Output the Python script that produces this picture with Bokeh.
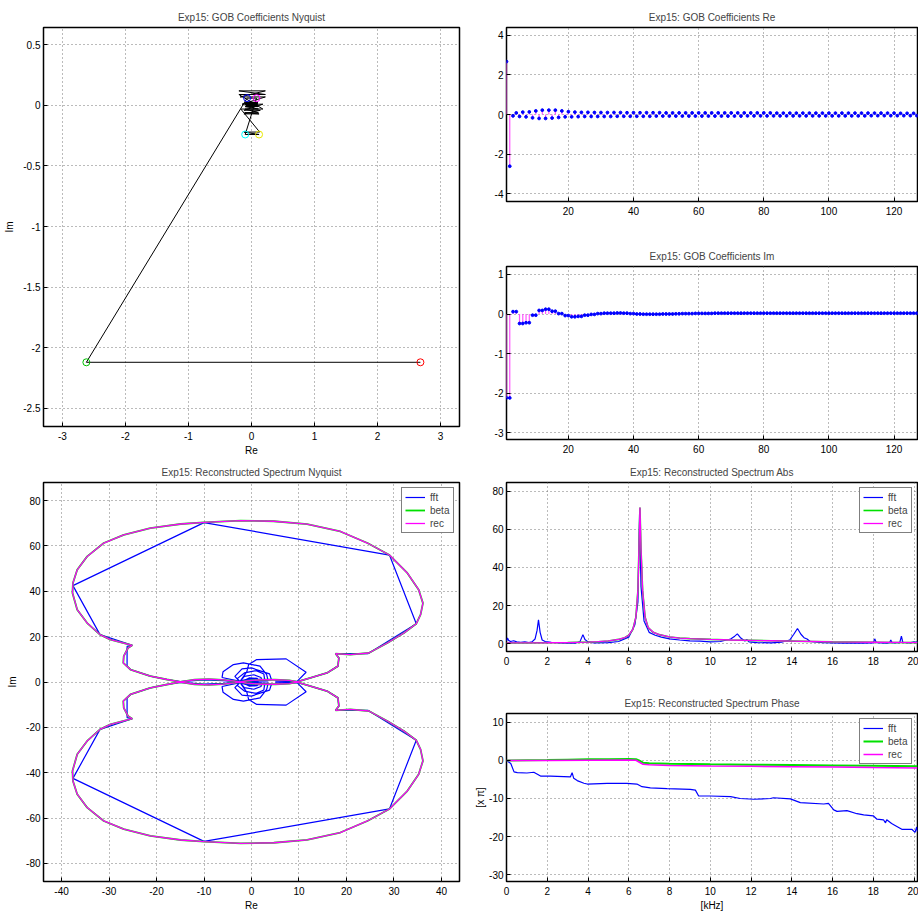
from bokeh.plotting import figure
from bokeh.layouts import row, column
from bokeh.models import FixedTicker, PrintfTickFormatter, Range1d
from bokeh.embed import file_html
from bokeh.resources import INLINE

FONT = "Liberation Sans"
FS = "10px"

# ---------------- GOB coefficients (index 1..128) ----------------
coef_idx = list(range(1, 129))
re_coef = [
    2.68, -2.62, -0.07, 0.08, -0.10, 0.12, -0.12, 0.13, -0.17, 0.18,
    -0.20, 0.22, -0.20, 0.22, -0.18, 0.22, -0.15, 0.18, -0.12, 0.14,
    -0.12, 0.12, -0.11, 0.11, -0.10, 0.11, -0.10, 0.10, -0.10, 0.10,
    -0.10, 0.10, -0.10, 0.10, -0.09, 0.10, -0.09, 0.09, -0.09, 0.09,
    -0.09, 0.09, -0.09, 0.09, -0.09, 0.09, -0.08, 0.09, -0.08, 0.08,
    -0.08, 0.08, -0.08, 0.08, -0.08, 0.08, -0.08, 0.08, -0.08, 0.08,
    -0.08, 0.08, -0.08, 0.08, -0.08, 0.08, -0.08, 0.08, -0.08, 0.08,
    -0.08, 0.08, -0.08, 0.08, -0.07, 0.08, -0.07, 0.08, -0.07, 0.08,
    -0.07, 0.08, -0.07, 0.07, -0.07, 0.07, -0.07, 0.07, -0.07, 0.07,
    -0.07, 0.07, -0.07, 0.07, -0.07, 0.07, -0.07, 0.07, -0.07, 0.07,
    -0.07, 0.07, -0.07, 0.07, -0.07, 0.07, -0.07, 0.07, -0.07, 0.07,
    -0.07, 0.07, -0.06, 0.07, -0.06, 0.07, -0.06, 0.07, -0.06, 0.07,
    -0.06, 0.06, -0.06, 0.06, -0.06, 0.06, -0.06, 0.06,
]
im_coef = [
    -2.12, -2.12, 0.06, 0.06, -0.24, -0.24, -0.22, -0.22, -0.03, -0.03,
    0.09, 0.09, 0.12, 0.12, 0.07, 0.07, 0.01, 0.01, -0.04, -0.04,
    -0.07, -0.07, -0.06, -0.06, -0.03, -0.03, -0.01, -0.01, 0.01, 0.01,
    0.02, 0.02, 0.02, 0.02, 0.025, 0.025, 0.02, 0.02, 0.01, 0.01,
    0.0, 0.0, -0.005, -0.005, -0.005, -0.005, -0.005, -0.005, 0.0, 0.0,
    0.0, 0.0, 0.005, 0.005, 0.01, 0.01, 0.01, 0.01, 0.015, 0.015,
    0.015, 0.015, 0.015, 0.015, 0.02, 0.02, 0.02, 0.02, 0.02, 0.02,
    0.02, 0.02, 0.02, 0.02, 0.02, 0.02, 0.02, 0.02, 0.02, 0.02,
    0.02, 0.02, 0.02, 0.02, 0.02, 0.02, 0.02, 0.02, 0.02, 0.02,
    0.02, 0.02, 0.02, 0.02, 0.02, 0.02, 0.02, 0.02, 0.02, 0.02,
    0.02, 0.02, 0.02, 0.02, 0.02, 0.02, 0.02, 0.02, 0.02, 0.02,
    0.02, 0.02, 0.02, 0.02, 0.02, 0.02, 0.02, 0.02, 0.02, 0.02,
    0.02, 0.02, 0.02, 0.02, 0.02, 0.02, 0.02, 0.02,
]
first_marker_colors = ["red", "#00c000", "blue", "magenta", "cyan", "#e8e800"]

# ---------------- Reconstructed spectrum, Nyquist (upper half; lower half is its conjugate) ----------------
rec_nyq_re = [9.6, 11.7, 15.9, 18.2, 18.4, 17.7, 20.8, 24.7, 28.6, 32.1, 34.7, 35.6, 36.1, 35.2,
              32.8, 29.05, 24.4, 18.7, 11.7, 4.7, -2.3, -10.0, -14.9, -21.3, -26.9, -31.1, -34.6,
              -36.7, -37.6, -37.7, -36.7, -34.6, -31.9, -29.7, -25.1, -26.0, -26.9, -27.0, -25.5,
              -21.3, -17.8, -15.0, -12.0, -9.0, -6.0, -3.5, -2.4, -1.0, 2.0, 5.0, 8.0, 9.6]
rec_nyq_im = [0.1, 1.4, 4.0, 7.0, 10.6, 12.5, 12.1, 12.8, 17.2, 21.6, 25.7, 29.7, 34.8, 40.7,
              48.1, 56.0, 61.3, 66.4, 69.6, 70.9, 71.2, 70.4, 69.7, 67.9, 64.9, 61.3, 55.4,
              49.5, 43.7, 39.3, 31.9, 26.0, 20.9, 18.7, 16.2, 15.0, 11.4, 8.4, 5.5,
              2.6, 1.1, 0.1, 1.0, 1.3, 0.9, 0.4, 0.1, 0.5, 1.0, 1.0, 0.7, 0.1]
beta_nyq_re = rec_nyq_re   # beta coincides with rec at this scale
beta_nyq_im = rec_nyq_im
fft_nyq_re = [-2.4, -6.0, -10.0, -15.0, -17.8, -21.3, -25.5, -26.2, -26.2, -25.1, -31.9, -37.6,
              -10.0, 29.05, 34.7, 24.5, 17.7, 18.4, 18.2, 15.9, 11.7, 9.6, 5.0, 9.6, 11.5, 7.3,
              1.1, -0.6, -1.0, -2.0, -2.4, -6.2, -6.0, -3.8, -1.7, 1.8, 3.2, 3.5, -2.4, -3.0,
              -1.5, 1.0, 2.6, 2.8, -2.4, -1.5, 0.5, 2.0, 2.2, -2.0, -0.5, 1.2, 1.5, -2.4,
              -3.5, -2.0, 0.0, 3.8, 4.2, -2.4, -1.0, 0.8, 2.9, -2.4]
fft_nyq_im = [0.0, 0.6, 0.9, 0.2, 1.1, 2.6, 5.5, 7.0, 15.7, 16.2, 20.9, 42.5,
              70.3, 56.0, 25.7, 12.5, 12.5, 10.6, 7.0, 4.0, 1.4, 0.2, 0.4, 0.3, 4.3, 10.2,
              9.9, 7.7, 4.5, 1.5, 0.3, 2.0, 4.5, 7.7, 8.4, 7.0, 3.3, 0.5, 0.2, 1.5,
              4.0, 5.0, 3.5, 0.6, 0.3, 2.5, 3.2, 2.0, 0.4, 0.2, 1.8, 1.6, 0.3, 0.0,
              2.5, 5.8, 6.2, 3.6, 1.0, 0.4, 1.2, 1.4, 0.8, 0.1]

# ---------------- Reconstructed spectrum, Abs ----------------
fft_abs_f = [0.0, 0.05, 0.1, 0.2, 0.35, 0.5, 0.7, 0.9, 1.1, 1.25, 1.4, 1.5, 1.57, 1.65, 1.75, 1.9,
             2.2, 2.6, 3.0, 3.4, 3.6, 3.7, 3.75, 3.85, 4.0, 4.3, 5.0, 5.5, 6.0, 6.3, 6.45, 6.53,
             6.6, 6.75, 7.0, 7.3, 7.6, 8.0, 8.5, 9.0, 9.5, 10.0, 10.5, 11.0, 11.2, 11.33, 11.5,
             11.7, 11.8, 11.9, 12.3, 13.0, 13.5, 13.9, 14.1, 14.28, 14.45, 14.6, 14.75, 14.9,
             15.5, 16.5, 17.5, 18.0, 18.07, 18.15, 18.6, 18.8, 18.86, 18.92, 19.3, 19.38, 19.45,
             19.8, 20.0, 20.1, 20.17]
fft_abs = [1.5, 3.0, 1.8, 1.2, 1.6, 1.0, 0.8, 1.0, 0.6, 1.0, 2.5, 7.0, 12.5, 6.0, 2.0, 1.2,
           0.8, 0.5, 0.4, 0.4, 1.0, 3.5, 4.8, 2.2, 1.0, 0.5, 0.6, 1.2, 3.5, 10.0, 22.0, 68.0,
           30.0, 12.0, 6.0, 4.5, 3.5, 2.6, 2.0, 1.5, 1.4, 1.0, 1.2, 2.5, 4.0, 5.2, 3.0,
           1.5, 2.2, 1.0, 0.6, 0.5, 0.9, 2.0, 5.0, 8.0, 5.0, 3.2, 2.5, 1.2,
           0.6, 0.4, 0.3, 0.5, 2.6, 0.6, 0.4, 0.5, 2.0, 0.5, 0.6, 4.0, 0.7,
           0.5, 1.0, 0.8, 1.2]
rec_abs_f = [0.0, 1.0, 2.0, 3.0, 4.0, 4.5, 5.0, 5.5, 5.8, 6.0, 6.2, 6.35, 6.45, 6.5, 6.55, 6.6,
             6.68, 6.8, 6.95, 7.2, 7.5, 8.0, 8.5, 9.0, 10.0, 11.0, 12.0, 13.0, 14.0, 15.0, 16.0,
             17.0, 18.0, 19.0, 20.17]
rec_abs = [0.5, 0.5, 0.55, 0.65, 0.85, 1.1, 1.5, 2.3, 3.2, 4.5, 7.5, 14.0, 28.0, 50.0, 71.5, 50.0,
           28.0, 14.0, 8.5, 6.0, 4.8, 3.6, 3.0, 2.7, 2.3, 2.0, 1.8, 1.6, 1.4, 1.2, 1.0,
           0.9, 0.8, 0.7, 0.6]
beta_abs_f = rec_abs_f   # beta coincides with rec
beta_abs = rec_abs

# ---------------- Reconstructed spectrum, Phase [x pi] ----------------
fft_ph_f = [0.0, 0.21, 0.37, 0.53, 1.0, 1.34, 1.67, 2.16, 3.14, 3.22, 3.3, 3.47, 3.8, 3.96, 4.94,
            5.9, 6.4, 6.65, 7.06, 7.88, 9.02, 9.27, 9.43, 10.0, 11.0, 11.47, 12.13, 12.95, 13.1,
            13.93, 14.42, 15.57, 15.8, 16.06, 16.22, 16.71, 17.2, 17.53, 18.0, 18.18, 18.5,
            18.6, 18.66, 18.9, 19.07, 19.4, 19.89, 20.05, 20.13, 20.17]
fft_ph = [0.0, -0.8, -3.0, -3.2, -3.3, -3.1, -4.1, -4.1, -4.3, -3.2, -4.7, -5.3, -6.0, -6.2, -6.0,
          -6.0, -6.2, -6.9, -7.2, -7.4, -7.6, -7.8, -9.35, -9.35, -9.5, -10.0, -10.2, -10.0, -9.8,
          -10.1, -11.1, -11.45, -11.3, -13.0, -13.4, -13.2, -14.0, -14.3, -14.55, -15.45, -15.6,
          -16.4, -15.6, -16.6, -17.1, -18.1, -18.1, -18.9, -17.5, -18.7]
beta_ph_f = [0.0, 1.0, 2.0, 3.0, 4.0, 5.0, 6.0, 6.35, 6.5, 6.7, 7.0, 8.0, 10.0, 12.0, 14.0, 16.0, 18.0, 20.17]
beta_ph = [0.0, 0.05, 0.1, 0.2, 0.3, 0.35, 0.4, 0.35, 0.0, -0.6, -0.75, -0.85, -1.0, -1.1, -1.2, -1.3, -1.4, -1.5]
rec_ph_f = [0.0, 2.0, 4.0, 6.0, 6.35, 6.5, 6.7, 7.0, 8.0, 10.0, 12.0, 14.0, 16.0, 18.0, 20.17]
rec_ph = [0.0, 0.0, 0.05, 0.1, 0.05, -0.4, -1.0, -1.15, -1.3, -1.45, -1.55, -1.65, -1.75, -1.85, -1.95]

# tick labels
tl_xticks = [-3, -2, -1, 0, 1, 2, 3]
tl_yticks = [-2.5, -2, -1.5, -1, -0.5, 0, 0.5]
coef_xticks = [20, 40, 60, 80, 100, 120]
re_yticks = [-4, -2, 0, 2, 4]
im_yticks = [-3, -2, -1, 0, 1]
bl_xticks = [-40, -30, -20, -10, 0, 10, 20, 30, 40]
bl_yticks = [-80, -60, -40, -20, 0, 20, 40, 60, 80]
khz_ticks = [0, 2, 4, 6, 8, 10, 12, 14, 16, 18, 20]
abs_yticks = [0, 20, 40, 60, 80]
ph_yticks = [-30, -20, -10, 0, 10]

BLUE = "#0000ff"
GREEN = "#00e000"
MAGENTA = "#ff00ff"
STEM = "#ff55ff"


def make_fig(w, h, xr, yr, xt, yt, title, mbl, mbr, mbt, mbb, xlabel=None, ylabel=None):
    p = figure(width=w, height=h, x_range=Range1d(*xr), y_range=Range1d(*yr),
               output_backend="svg", toolbar_location=None, title=title,
               min_border_left=mbl, min_border_right=mbr, min_border_top=mbt, min_border_bottom=mbb)
    p.title.text_font = FONT
    p.title.text_font_size = FS
    p.title.text_font_style = "normal"
    p.title.align = "center"
    p.title.standoff = 10
    p.background_fill_color = "white"
    p.border_fill_color = "white"
    p.outline_line_color = "black"
    p.outline_line_width = 1.5
    for ax, ticks in ((p.xaxis[0], xt), (p.yaxis[0], yt)):
        ax.ticker = FixedTicker(ticks=ticks)
        ax.formatter = PrintfTickFormatter(format="%g")
        ax.major_tick_in = 4
        ax.major_tick_out = 0
        ax.major_tick_line_color = "black"
        ax.minor_tick_line_color = None
        ax.axis_line_color = None
        ax.major_label_text_font = FONT
        ax.major_label_text_font_size = FS
        ax.major_label_text_color = "black"
        ax.axis_label_text_font = FONT
        ax.axis_label_text_font_size = FS
        ax.axis_label_text_font_style = "normal"
        ax.axis_label_text_color = "black"
    p.xaxis.major_label_standoff = 5
    p.yaxis.major_label_standoff = 3
    p.xaxis.axis_label_standoff = 2
    p.yaxis.axis_label_standoff = 5
    if xlabel:
        p.xaxis.axis_label = xlabel
    if ylabel:
        p.yaxis.axis_label = ylabel
    p.xgrid.ticker = FixedTicker(ticks=xt)
    p.ygrid.ticker = FixedTicker(ticks=yt)
    for g in (p.xgrid[0], p.ygrid[0]):
        g.grid_line_color = "#777777"
        g.grid_line_dash = "1 3"
        g.grid_line_width = 1
    return p


def style_legend(p):
    lg = p.legend[0]
    lg.location = "top_right"
    lg.border_line_color = "black"
    lg.border_line_width = 1
    lg.background_fill_color = "white"
    lg.background_fill_alpha = 1
    lg.label_text_font = FONT
    lg.label_text_font_size = FS
    lg.glyph_width = 20
    lg.glyph_height = 12
    lg.label_height = 12
    lg.label_standoff = 5
    lg.spacing = 1
    lg.padding = 3
    lg.margin = 5


# ---- top-left: coefficients Nyquist
tl = make_fig(470, 458, (-3.3, 3.3), (-2.65, 0.643), tl_xticks, tl_yticks,
              "Exp15: GOB Coefficients Nyquist", 43, 11, 27, 32, xlabel="Re", ylabel="Im")
tl.line(re_coef, im_coef, line_color="black", line_width=1)
tl.scatter(re_coef[:6], im_coef[:6], marker="circle", size=7, fill_color=None,
           line_color=first_marker_colors, line_width=1)

# ---- bottom-left: reconstructed spectrum Nyquist
bl = make_fig(470, 455, (-43.8, 43.8), (-88, 88), bl_xticks, bl_yticks,
              "Exp15: Reconstructed Spectrum Nyquist", 43, 11, 24, 31, xlabel="Re", ylabel="Im")
bl.line(fft_nyq_re, fft_nyq_im, line_color=BLUE, line_width=1.2, legend_label="fft")
bl.line(fft_nyq_re, [-v for v in fft_nyq_im], line_color=BLUE, line_width=1.2)
bl.line(beta_nyq_re, beta_nyq_im, line_color=GREEN, line_width=1.8, legend_label="beta")
bl.line(beta_nyq_re, [-v for v in beta_nyq_im], line_color=GREEN, line_width=1.8)
bl.line(rec_nyq_re, rec_nyq_im, line_color=MAGENTA, line_width=1.3, legend_label="rec")
bl.line(rec_nyq_re, [-v for v in rec_nyq_im], line_color=MAGENTA, line_width=1.3)
style_legend(bl)

# ---- right: coefficients Re
r1 = make_fig(448, 230, (1, 127.2), (-4.405, 4.405), coef_xticks, re_yticks,
              "Exp15: GOB Coefficients Re", 18, 1, 27, 29)
r1.segment(x0=coef_idx, y0=[0] * len(coef_idx), x1=coef_idx, y1=re_coef, line_color=STEM, line_width=1.2)
r1.scatter(coef_idx, re_coef, size=2.8, fill_color=BLUE, line_color=BLUE)

# ---- right: coefficients Im
r2 = make_fig(448, 228, (1, 127.2), (-3.17, 1.2), coef_xticks, im_yticks,
              "Exp15: GOB Coefficients Im", 18, 1, 36, 19)
r2.segment(x0=coef_idx, y0=[0] * len(coef_idx), x1=coef_idx, y1=im_coef, line_color=STEM, line_width=1.2)
r2.scatter(coef_idx, im_coef, size=2.8, fill_color=BLUE, line_color=BLUE)

# ---- right: spectrum abs
r3 = make_fig(448, 232, (0, 20.17), (-4.04, 84.56), khz_ticks, abs_yticks,
              "Exp15: Reconstructed Spectrum Abs", 36, 1, 24, 39)
r3.line(fft_abs_f, fft_abs, line_color=BLUE, line_width=1.2, legend_label="fft")
r3.line(beta_abs_f, beta_abs, line_color=GREEN, line_width=1.6, legend_label="beta")
r3.line(rec_abs_f, rec_abs, line_color=MAGENTA, line_width=1.3, legend_label="rec")
style_legend(r3)

# ---- right: spectrum phase
r4 = make_fig(448, 223, (0, 20.17), (-31.83, 12.35), khz_ticks, ph_yticks,
              "Exp15: Reconstructed Spectrum Phase", 36, 1, 23, 31, xlabel="[kHz]", ylabel="[x π]")
r4.yaxis.axis_label_standoff = 0
r4.line(fft_ph_f, fft_ph, line_color=BLUE, line_width=1.2, legend_label="fft")
r4.line(beta_ph_f, beta_ph, line_color=GREEN, line_width=2, legend_label="beta")
r4.line(rec_ph_f, rec_ph, line_color=MAGENTA, line_width=1.5, legend_label="rec")
style_legend(r4)

layout = row(column(tl, bl, spacing=0), column(r1, r2, r3, r4, spacing=0), spacing=0)

open("out.html", "w").write(file_html(layout, INLINE))
